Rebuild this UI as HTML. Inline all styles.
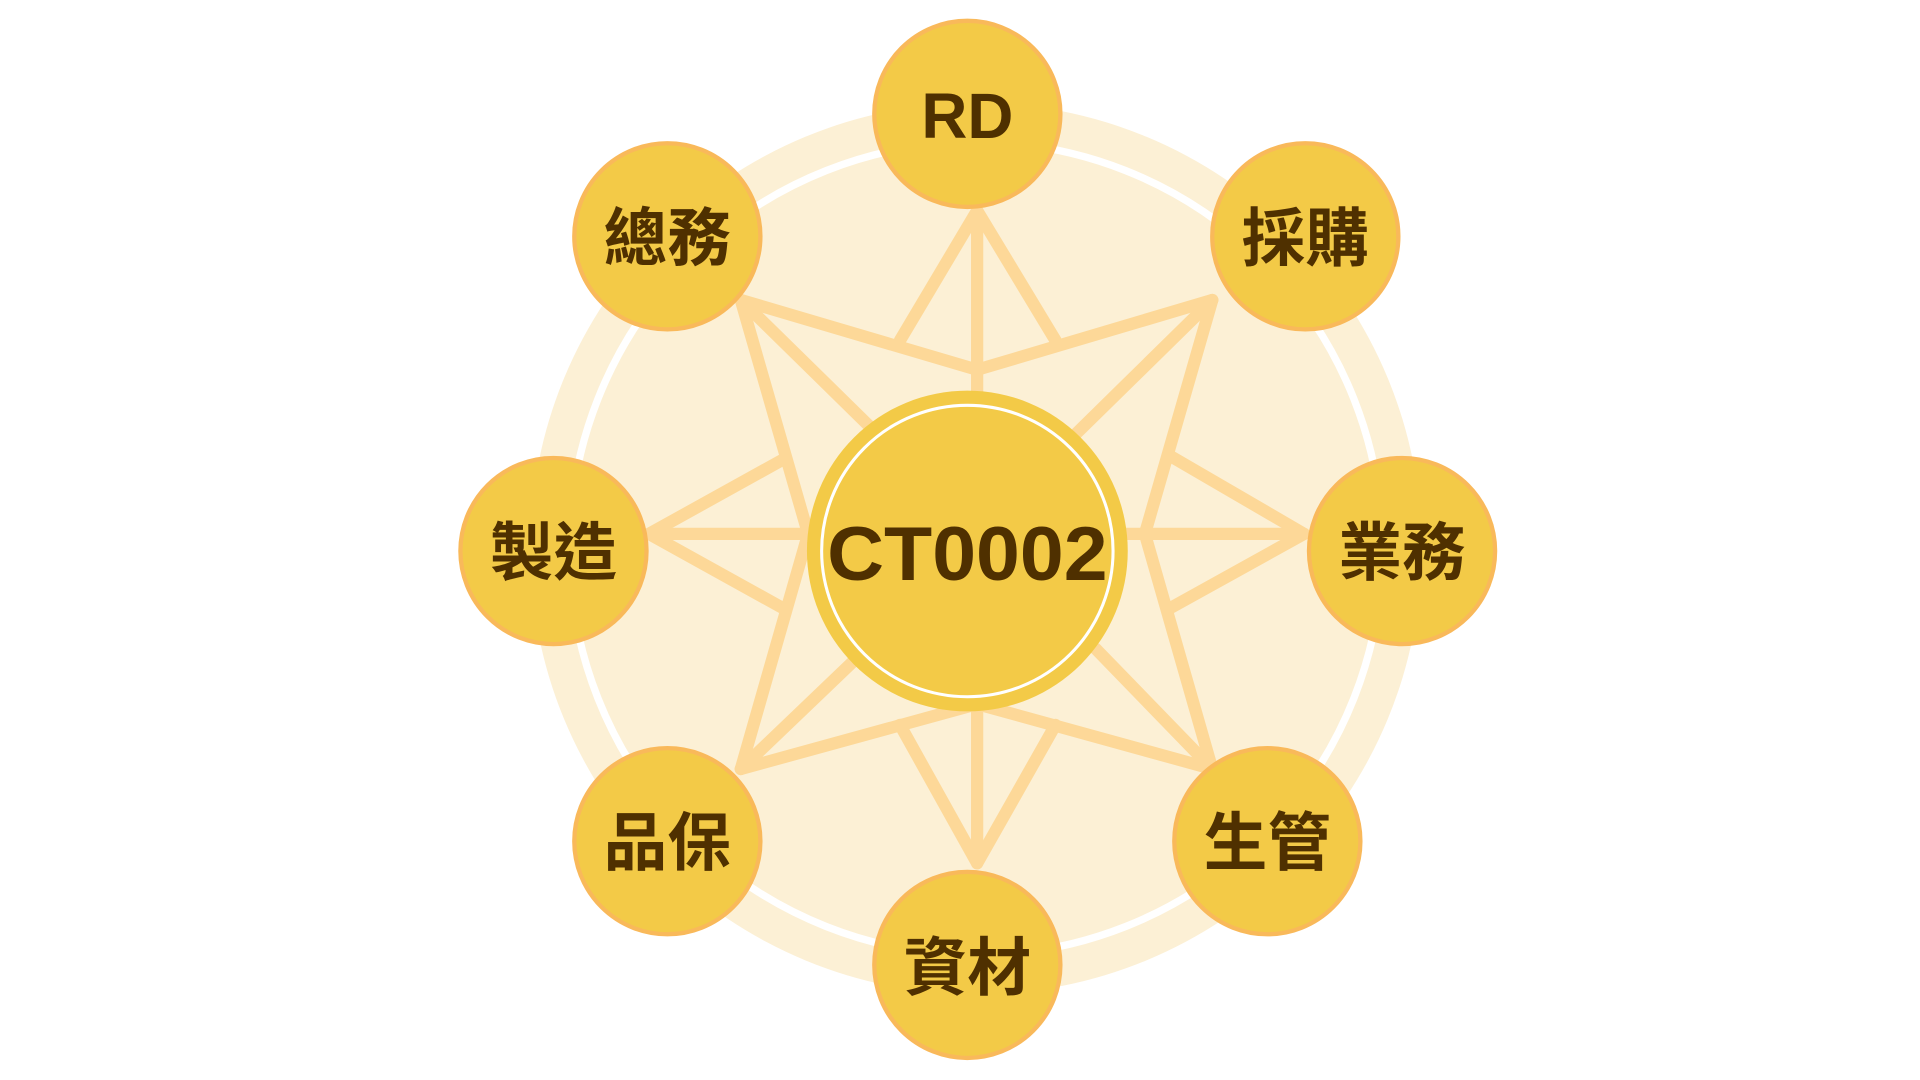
<!DOCTYPE html>
<html><head><meta charset="utf-8"><style>
html,body{margin:0;padding:0;background:#fff;width:1920px;height:1080px;overflow:hidden}
svg{display:block}
text{font-family:"Liberation Sans","Noto Sans CJK TC",sans-serif;font-weight:bold;fill:#4F3000;text-anchor:middle;dominant-baseline:central}
</style></head><body>
<svg width="1920" height="1080" viewBox="0 0 1568 882" xmlns="http://www.w3.org/2000/svg">
<circle cx="797" cy="448" r="364" fill="#FCF0D5"/>
<circle cx="797" cy="448" r="332" fill="none" stroke="#fff" stroke-width="6"/>
<g stroke="#FDD898" stroke-width="10" fill="none" stroke-linejoin="round" stroke-linecap="round">
<line x1="798" y1="172" x2="798" y2="705"/>
<line x1="530" y1="436" x2="1065" y2="436"/>
<polyline points="735,278 798,172 862,278"/>
<polyline points="735,592 798,705 862,592"/>
<polyline points="640,375 530,436 640,497"/>
<polyline points="955,372 1065,436 955,497"/>
<polyline points="605,245 798,302 990,245"/>
<polyline points="605,628 798,575 990,628"/>
<polyline points="605,245 660,436 605,628"/>
<polyline points="990,245 935,436 990,628"/>
<line x1="605" y1="245" x2="712" y2="350"/>
<line x1="990" y1="245" x2="878" y2="355"/>
<line x1="605" y1="628" x2="697" y2="540"/>
<line x1="990" y1="628" x2="895" y2="530"/>
</g>
<circle cx="790" cy="450" r="131" fill="#F3CA47"/>
<circle cx="790" cy="450" r="119" fill="none" stroke="#fff" stroke-width="2.5"/>
<text x="790" y="453" font-size="62" textLength="229" lengthAdjust="spacingAndGlyphs" style="font-weight:600">CT0002</text>
<g fill="#F3CA47" stroke="#F9B95A" stroke-width="3.5">
<circle cx="790" cy="93" r="76"/>
<circle cx="1066" cy="193" r="76"/>
<circle cx="1145" cy="450" r="76"/>
<circle cx="1035" cy="687" r="76"/>
<circle cx="790" cy="788" r="76"/>
<circle cx="545" cy="687" r="76"/>
<circle cx="452" cy="450" r="76"/>
<circle cx="545" cy="193" r="76"/>
</g>
<g font-size="52">
<text x="790" y="95">RD</text>
<text x="1066" y="195">採購</text>
<text x="1145" y="452">業務</text>
<text x="1035" y="689">生管</text>
<text x="790" y="791">資材</text>
<text x="545" y="689">品保</text>
<text x="452" y="452">製造</text>
<text x="545" y="195">總務</text>
</g>
</svg>
</body></html>
